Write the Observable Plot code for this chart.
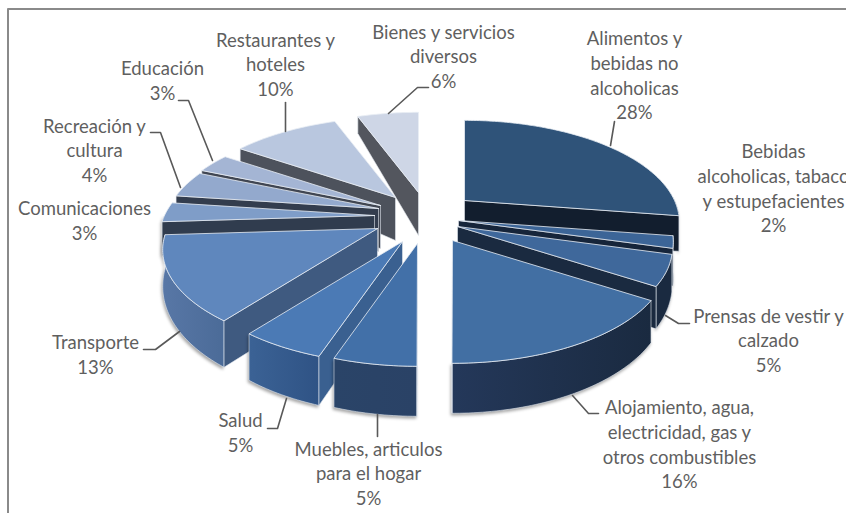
<!DOCTYPE html>
<html><head><meta charset="utf-8">
<script src="https://cdn.jsdelivr.net/npm/d3@7"></script>
<script src="https://cdn.jsdelivr.net/npm/@observablehq/plot@0.6"></script>
<style>html,body{margin:0;padding:0;background:#fff;overflow:hidden}svg{display:block}</style>
</head><body><div id="chart"></div>
<script>
const categories = ["Alimentos y\nbebidas no\nalcoholicas","Bebidas\nalcoholicas, tabaco\ny estupefacientes","Prensas de vestir y\ncalzado","Alojamiento, agua,\nelectricidad, gas y\notros combustibles","Muebles, articulos\npara el hogar","Salud","Transporte","Comunicaciones","Recreación y\ncultura","Educación","Restaurantes y\nhoteles","Bienes y servicios\ndiversos"];
const values = [28,2,5,16,5,5,13,3,4,3,10,6];

// Explosion of each slice (apex offset from the pie centre, in chart units)
const explodeX = [46,40,39,34,-1,-16,-41,-44,-40,-38,-23,0];
const explodeY = [-19,1,7,21,24,22,9,-4,-11,-14,-22,-27];

// Slice colours
const topColors  = ["#2f5379","#3c6597","#3f689b","#426fa3","#4270a8","#4b7ab5","#5f87bd","#7f9dc8","#93a9cd","#a4b5d4","#b9c7df","#ced6e6"];
const wallColors = ["#121e2e","#16253a","#1a2a40","#1a2a40","#365c8c","#3a6090","#3f5a80","#303c4e","#333d4e","#404652","#4d525c","#53565e"];
const sideLeft   = ["#14202f","#16253a","#1a2a40","#24385a","#2a4468","#3b6295","#5877a6","#303c4e","#333d4e","#404652","#4d525c","#53565e"];
const sideRight  = ["#14202f","#16253a","#1a2a40","#1a2a40","#2a4266","#2f5385","#4b6b98","#303c4e","#333d4e","#404652","#4d525c","#53565e"];

// Label layout, chart units
const labelX = [634,773,768,679,368,240,95,84,94,162,275,443];
const labelY = [74,187,339,443,472,431,353,219,149,79,63,55];
const leaders = [
  [[610,145],[614,121]],
  null,
  [[665,315],[678,323],[689,323]],
  [[572,395],[588,413],[598,413]],
  [[377,414],[377,436]],
  [[286,398],[277,428],[267,428]],
  [[179,331],[155,349],[143,349]],
  null,
  [[180,187],[160,132],[150,132]],
  [[212,160],[188,100],[178,100]],
  [[285,131],[285,102]],
  [[388,113],[417,87],[428,87]]
];

// Pie projection
const cx = 418, cy = 219, R = 210, Ry = 97, k = 0.21, apexDepth = 43;
const rad = d => d * Math.PI / 180;
const warp = a => {
  if (a <= 180) return a - 3.5 * (1 - Math.cos(rad(a))) / 2;
  if (a <= 270) return a - 3.5 * Math.cos(rad(a - 180)) ** 2;
  return a + 2 * Math.sin(rad(2 * (a - 270)));
};
function rim(a) {
  const t = rad(warp(a)), X = Math.sin(t), Y = -Math.cos(t), s = 1 / (1 - k * Y);
  return {dx: s * R * X, dy: s * Ry * Y, depth: 33 + 17 * Y};
}
const total = d3.sum(values);
const cum = d3.cumsum(values);
const slices = values.map((v, i) => {
  const a0 = (cum[i] - v) / total * 360, a1 = cum[i] / total * 360;
  return {i, a0, a1, ax: cx + explodeX[i], ay: cy + explodeY[i]};
});
const angles = (a, b) => { const r = d3.range(a, b, 1); r.push(b); return r; };
const P = (s, a, down = false) => { const r = rim(a); return {x: s.ax + r.dx, y: s.ay + r.dy + (down ? r.depth : 0)}; };
const close = pts => [...pts, pts[0]];

const topFace = s => close([{x: s.ax, y: s.ay}, ...angles(s.a0, s.a1).map(a => P(s, a))]);
const wall = (s, a) => close([{x: s.ax, y: s.ay}, P(s, a), P(s, a, true), {x: s.ax, y: s.ay + apexDepth}]);
function outer(s) {
  const a = Math.max(s.a0, 90), b = Math.min(s.a1, 270);
  if (b <= a) return null;
  const as = angles(a, b);
  return close([...as.map(t => P(s, t)), ...as.slice().reverse().map(t => P(s, t, true))]);
}

const defs = () => {
  const d = d3.create("svg:defs");
  values.forEach((v, i) => {
    const g = d.append("linearGradient").attr("id", "side" + i).attr("x1", 0).attr("x2", 1).attr("y1", 0).attr("y2", 0);
    g.append("stop").attr("offset", 0).attr("stop-color", sideLeft[i]);
    g.append("stop").attr("offset", 1).attr("stop-color", sideRight[i]);
  });
  return d.node();
};

const xy = {x: "x", y: "y"};
const marks = [defs];
const order = [0,1,2,3,11,10,9,8,7,6,5,4];
const shadow = "drop-shadow(-1px 2px 1.5px rgba(0,0,0,.35))";
for (const i of order) {
  const s = slices[i];
  const wallAngle = s.a0 >= 180 ? s.a0 : s.a1;
  if (i === 0) marks.push(Plot.line(wall(s, s.a0), {...xy, fill: "#121e2e", stroke: "none"}));
  const o = outer(s);
  if (o) marks.push(Plot.line(o, {...xy, fill: `url(#side${i})`, stroke: "#dfe5ee", strokeWidth: 0.6, imageFilter: shadow}));
  marks.push(Plot.line(wall(s, wallAngle), {...xy, fill: wallColors[i], stroke: "#e4e9f0", strokeWidth: 0.6}));
  marks.push(Plot.line(topFace(s), {...xy, fill: topColors[i], stroke: "#e8edf4", strokeWidth: 0.8}));
}
// Frame
marks.push(Plot.line([{x: 7.5, y: 513}, {x: 7.5, y: 8.5}, {x: 846, y: 8.5}], {...xy, stroke: "#8a8a8a", strokeWidth: 2}));
// Leader lines
leaders.forEach(l => { if (l) marks.push(Plot.line(l, {x: d => d[0], y: d => d[1], stroke: "#595959", strokeWidth: 1.6})); });
// Labels
marks.push(Plot.text(values.map((v, i) => i), {
  x: i => labelX[i], y: i => labelY[i],
  text: i => `${categories[i]}\n${values[i]}%`,
  fontFamily: "Lato", fontSize: 18.5, lineHeight: 1.335, fill: "#5f5f5f", textAnchor: "middle"
}));

const chart = Plot.plot({
  width: 846, height: 513, margin: 0,
  x: {domain: [0, 846], range: [0, 846], axis: null},
  y: {domain: [0, 513], range: [0, 513], axis: null},
  marks
});
document.getElementById("chart").append(chart);
</script></body></html>
